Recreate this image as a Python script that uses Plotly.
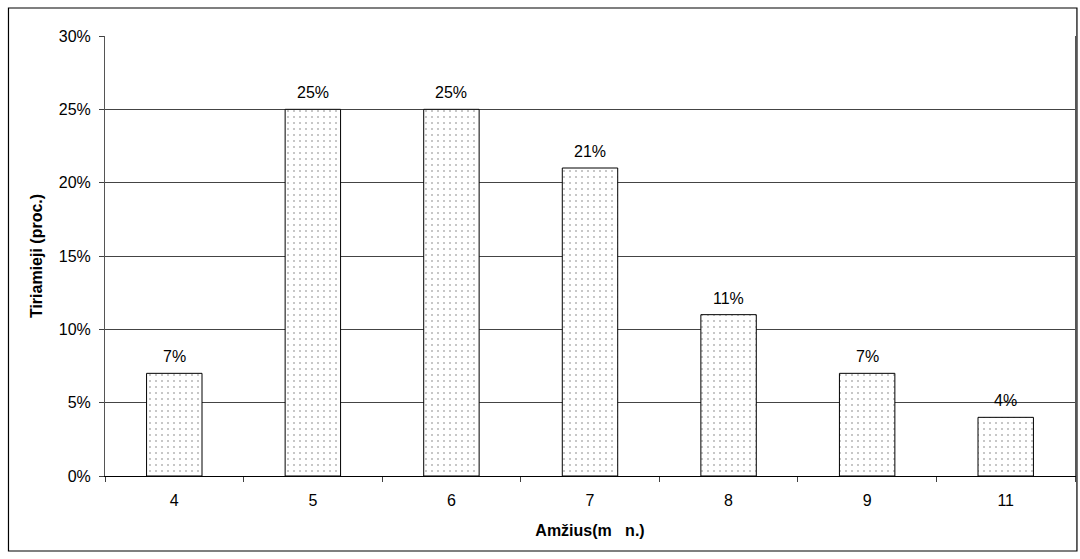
import plotly.graph_objects as go

categories = ["4", "5", "6", "7", "8", "9", "11"]
values = [7, 25, 25, 21, 11, 7, 4]
labels = ["7%", "25%", "25%", "21%", "11%", "7%", "4%"]
y_ticks = [0, 5, 10, 15, 20, 25, 30]
y_ticktext = ["0%", "5%", "10%", "15%", "20%", "25%", "30%"]

FONT = "Liberation Sans, Arial, sans-serif"
FS = 16

fig = go.Figure()
fig.add_trace(go.Bar(
    x=categories, y=values, width=0.4,
    marker=dict(color="white",
                line=dict(color="black", width=1),
                pattern=dict(shape=".", fgcolor="black", bgcolor="white",
                             size=6, solidity=0.06)),
    hoverinfo="skip",
))

for i, (v, t) in enumerate(zip(values, labels)):
    fig.add_annotation(x=i, y=v, xref="x", yref="y", text=t, showarrow=False,
                       yanchor="bottom", yshift=6,
                       font=dict(family=FONT, size=FS, color="black"))

fig.update_layout(
    width=1080, height=559,
    margin=dict(l=105, r=5, t=36, b=83),
    paper_bgcolor="white", plot_bgcolor="white",
    showlegend=False,
    font=dict(family=FONT, size=FS, color="black"),
    xaxis=dict(type="category", tickson="boundaries", ticks="outside", ticklen=5,
               tickcolor="#404040", showline=True, linecolor="black", linewidth=1,
               showgrid=False, range=[-0.5, 6.5], ticklabelstandoff=10,
               title=dict(text="<b>Amžius(m\u00a0\u00a0\u00a0n.)</b>",
                          font=dict(family=FONT, size=FS, color="black"), standoff=16),
               tickfont=dict(family=FONT, size=FS)),
    yaxis=dict(range=[0, 30], tickvals=y_ticks, ticktext=y_ticktext, ticks="outside",
               ticklen=5, tickcolor="#404040", showline=True, mirror=True,
               linecolor="#555555", linewidth=1, showgrid=True, gridcolor="#444444",
               gridwidth=1, zeroline=False, ticklabelstandoff=5,
               title=dict(text="<b>Tiriamieji (proc.)</b>",
                          font=dict(family=FONT, size=FS, color="black"), standoff=12),
               tickfont=dict(family=FONT, size=FS)),
)

fig.add_shape(type="rect", xref="paper", yref="paper",
              x0=-0.0995, x1=1.002, y0=-0.1705, y1=1.0636,
              line=dict(color="black", width=1.2), fillcolor="rgba(0,0,0,0)", layer="below")

fig.write_html("out.html")
